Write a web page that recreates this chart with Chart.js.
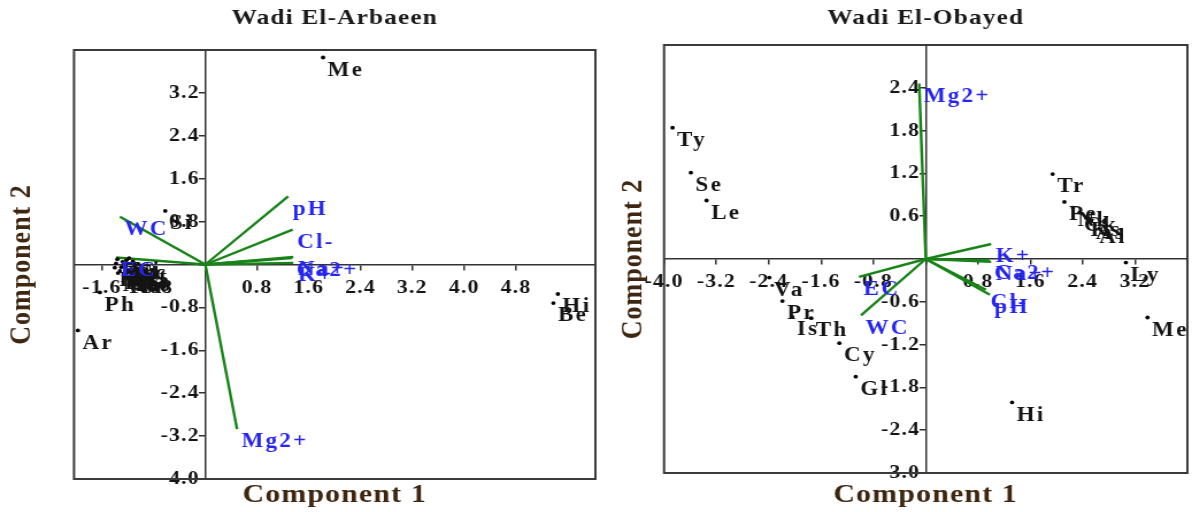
<!DOCTYPE html>
<html>
<head>
<meta charset="utf-8">
<script src="https://cdn.jsdelivr.net/npm/chart.js@4.4.1/dist/chart.umd.min.js"></script>
<style>
body { margin: 0; background: #fff; }
#wrap { position: relative; width: 1192px; height: 512px; overflow: hidden; }
canvas { position: absolute; top: 0; }
</style>
</head>
<body>
<div id="wrap">
<!-- the figure is drawn narrow and stretched sideways, like the original scan -->
<canvas id="c1" width="522" height="512" style="left:0;width:600px;height:512px"></canvas>
<canvas id="c2" width="515" height="512" style="left:600px;width:592px;height:512px"></canvas>
</div>
<script>
var SERIF = "'Liberation Serif', 'Times New Roman', serif";
var GREEN = '#188418';
var BLUE = '#2626f0';
var INK = '#141414';
var BROWN = '#3e2610';

// Wadi El-Arbaeen - species scores (component 1, component 2)
var arbSpecies = ['Me', 'Hi', 'Be', 'Ar', 'Ph', 'Si', 'Ac', 'Zy', 'Fa', 'Ca', 'Ht', 'Ps', 'Ze', 'Ta', 'Ni',
                  'Ha', 'Ma', 'Po', 'Sa', 'Ec', 'Ro', 'Fo', 'Ka'];
var arbPc1 = [1.82, 5.45, 5.38, -1.97, -1.63, -0.62, -1.38, -1.30, -1.22, -1.15, -1.10, -1.32, -1.25, -1.05, -1.18,
              -1.40, -1.35, -1.28, -1.20, -1.12, -1.08, -1.36, -1.24];
var arbPc2 = [3.86, -0.55, -0.72, -1.23, -0.52, 1.00, 0.02, -0.05, 0.08, -0.10, 0.00, -0.12, -0.02, -0.08, 0.12,
              -0.06, -0.16, 0.05, -0.14, 0.06, -0.15, 0.10, -0.20];
// Wadi El-Arbaeen - soil variable loadings
var arbVars = ['pH', 'Cl-', 'Na+', 'Ca2+', 'K+', 'WC', 'EC', 'Mg2+'];
var arbLoad1 = [1.28, 1.35, 1.36, 1.34, 1.36, -1.32, -1.38, 0.49];
var arbLoad2 = [1.27, 0.65, 0.14, 0.12, 0.03, 0.89, 0.13, -3.07];

// Wadi El-Obayed - species scores
var obaSpecies = ['Ty', 'Se', 'Le', 'Tr', 'Pe', 'Nk', 'Ck', 'Ks', 'As', 'Al', 'Ly', 'Me', 'Hi', 'Va', 'Pr', 'Is', 'Th', 'Cy', 'Gl'];
var obaPc1 = [-3.87, -3.59, -3.35, 1.94, 2.12, 2.25, 2.35, 2.45, 2.53, 2.58, 3.06, 3.39, 1.32, -2.39, -2.19, -2.04, -1.75, -1.32, -1.07];
var obaPc2 = [1.84, 1.21, 0.82, 1.19, 0.80, 0.72, 0.65, 0.58, 0.54, 0.48, -0.05, -0.82, -2.01, -0.26, -0.59, -0.81, -0.83, -1.18, -1.65];
// Wadi El-Obayed - soil variable loadings
var obaVars = ['Mg2+', 'K+', 'Na+', 'Ca2+', 'Cl-', 'pH', 'EC', 'WC'];
var obaLoad1 = [-0.10, 1.00, 1.00, 0.98, 0.92, 0.98, -1.02, -0.99];
var obaLoad2 = [2.46, 0.21, -0.04, -0.02, -0.43, -0.50, -0.25, -0.79];

function fmtX(v) {
  if (Math.abs(v) < 1e-9) return '';
  return v.toFixed(1);
}
function fmtY(v) {
  if (Math.abs(v) < 1e-9) return '';
  return v.toFixed(1) + '\u2009';  // keeps the label clear of the tick mark
}

// labels next to the dots and at the ends of the vectors
var labelPlugin = {
  id: 'markLabels',
  afterDatasetsDraw: function(chart) {
    var ctx = chart.ctx;
    ctx.save();
    ctx.textAlign = 'left';
    ctx.textBaseline = 'middle';
    ctx.font = 'bold 20px ' + SERIF;
    ctx.letterSpacing = '2px';
    chart.data.datasets.forEach(function(ds, i) {
      if (!ds.labels) return;
      var meta = chart.getDatasetMeta(i);
      ctx.fillStyle = ds.labelColor;
      ds.labels.forEach(function(txt, j) {
        var el = meta.data[ds.labelAt == null ? j : ds.labelAt];
        ctx.fillText(txt, el.x + 4, el.y + 13);
      });
    });
    ctx.restore();
  }
};

var framePlugin = {
  id: 'frame',
  beforeDraw: function(chart) {
    chart.ctx.letterSpacing = '1px';
  },
  afterDraw: function(chart) {
    var a = chart.chartArea, ctx = chart.ctx;
    ctx.save();
    ctx.strokeStyle = '#3a3a3a';
    ctx.lineWidth = 2;
    ctx.strokeRect(a.left, a.top, a.right - a.left, a.bottom - a.top);
    ctx.restore();
  }
};

function buildDatasets(species, pc1, pc2, vars, l1, l2) {
  var sets = [{
    data: species.map(function(s, i) { return {x: pc1[i], y: pc2[i]}; }),
    labels: species,
    labelColor: INK,
    pointRadius: 1.9,
    pointBackgroundColor: '#000',
    pointBorderWidth: 0
  }];
  vars.forEach(function(v, i) {
    sets.push({
      data: [{x: 0, y: 0}, {x: l1[i], y: l2[i]}],
      labels: [v],
      labelAt: 1,
      labelColor: BLUE,
      showLine: true,
      borderColor: GREEN,
      borderWidth: 2.4,
      pointRadius: 0
    });
  });
  return sets;
}

function centerAxis(min, max, step, lastTick, at, fmt, pad) {
  return {
    type: 'linear',
    min: min,
    max: max,
    position: at,
    afterBuildTicks: function(s) {
      s.ticks = s.ticks.filter(function(t) { return t.value < lastTick; });
    },
    ticks: {
      stepSize: step,
      includeBounds: false,
      autoSkip: false,
      maxRotation: 0,
      padding: pad,
      color: INK,
      font: {family: SERIF, size: 19, weight: 'bold'},
      callback: fmt
    },
    grid: {drawOnChartArea: false, drawTicks: true, tickLength: 5, color: '#333', lineWidth: 1.5},
    border: {display: true, color: '#333', width: 1.5}
  };
}

function titleAxis(pos, text, size, pad) {
  return {
    type: 'linear',
    position: pos,
    min: 0,
    max: 1,
    afterFit: function(s) {
      if (pos === 'bottom') s.height = size; else s.width = size;
    },
    ticks: {display: false},
    grid: {display: false},
    border: {display: false},
    title: {
      display: true,
      text: text,
      color: BROWN,
      font: {family: SERIF, size: 26, weight: 'bold'},
      padding: pad
    }
  };
}

function makeChart(id, title, sets, xr, yr, layout) {
  return new Chart(document.getElementById(id), {
    type: 'scatter',
    data: {datasets: sets},
    options: {
      responsive: false,
      animation: false,
      events: [],
      layout: {padding: {left: 0, right: layout.right, top: 0, bottom: 0}},
      plugins: {
        legend: {display: false},
        tooltip: {enabled: false},
        title: {
          display: true,
          fullSize: false,
          text: title,
          color: '#1a1a1a',
          font: {family: SERIF, size: 22, weight: 'bold'},
          padding: {top: 5, bottom: layout.titleGap}
        }
      },
      scales: {
        x: centerAxis(xr[0], xr[1], xr[2], xr[3], {y: 0}, fmtX, 7),
        y: centerAxis(yr[0], yr[1], yr[2], yr[3], {x: 0}, fmtY, 3),
        xt: titleAxis('bottom', 'Component 1', layout.bottom, {top: 0, bottom: 1}),
        yl: titleAxis('left', 'Component 2', layout.left, {top: layout.yTitle, bottom: 0})
      }
    },
    plugins: [framePlugin, labelPlugin]
  });
}

makeChart('c1', 'Wadi El-Arbaeen',
  buildDatasets(arbSpecies, arbPc1, arbPc2, arbVars, arbLoad1, arbLoad2),
  [-2.03, 6.03, 0.8, 5.0], [-4.0, 4.0, 0.8, 3.9],
  {left: 64.4, right: 2.6, bottom: 33, titleGap: 18.6, yTitle: 3.5});

makeChart('c2', 'Wadi El-Obayed',
  buildDatasets(obaSpecies, obaPc1, obaPc2, obaVars, obaLoad1, obaLoad2),
  [-4.0, 4.0, 0.8, 3.9], [-3.0, 3.0, 0.6, 2.9],
  {left: 55.7, right: 3.4, bottom: 39, titleGap: 13.6, yTitle: 14});
</script>
</body>
</html>
